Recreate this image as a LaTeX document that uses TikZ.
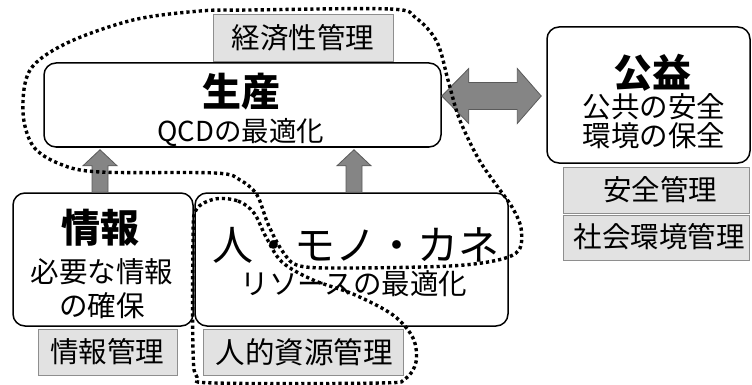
\documentclass[tikz,border=0pt]{standalone}
\usepackage{fontspec}
\setmainfont{Noto Sans CJK JP}
\usetikzlibrary{calc}
\definecolor{mgfill}{HTML}{E2E2E2}
\definecolor{mgline}{HTML}{8E8E8E}
\definecolor{arfill}{HTML}{858585}
\definecolor{arline}{HTML}{5A5A5A}
\begin{document}
\begin{tikzpicture}[x=1pt,y=-1pt,
  box/.style={draw=black, line width=1.5pt, rounded corners=12pt, fill=white, inner sep=0pt},
  mgmt/.style={draw=mgline, line width=1pt, fill=mgfill, inner sep=0pt},
  txt/.style={inner sep=0pt, text=black},
  big/.style={txt, font=\fontsize{39}{41}\selectfont\bfseries},
  huge/.style={txt, font=\fontsize{41}{43}\selectfont},
  mid/.style={txt, font=\fontsize{28.5}{30}\selectfont},
  blockarrow/.style={fill=arfill, draw=arline, line width=0.8pt, line join=miter},
  dotline/.style={draw=black, line width=3.4pt, dash pattern=on 3.2pt off 3pt}]
\useasboundingbox (0,0) rectangle (752,385);

% boxes
\node[box, minimum width=397pt, minimum height=84pt] (prod) at (242.5,105) {};
\node[mgmt, minimum width=180pt, minimum height=47pt] (econ) at (303,38.5) {};
\node[box, minimum width=203pt, minimum height=136pt] (pub) at (648.5,95) {};
\node[mgmt, minimum width=186pt, minimum height=46pt] (safe) at (656,190) {};
\node[mgmt, minimum width=186pt, minimum height=45pt] (soc) at (656,237.5) {};
\node[box, minimum width=180pt, minimum height=133pt] (info) at (103,259.5) {};
\node[box, minimum width=313pt, minimum height=133pt] (res) at (351.5,259.5) {};
\node[mgmt, minimum width=139pt, minimum height=46pt] (infom) at (107.5,352) {};
\node[mgmt, minimum width=200pt, minimum height=46pt] (hrm) at (303,352) {};

% texts
\node[big] (prodT) at (241,92) {生産};
\node[txt, font=\fontsize{27.5}{29}\selectfont] (prodS) at (241,132) {QCDの最適化};
\node[mid] (econT) at (303,38) {経済性管理};
\node[big] (pubT) at (652,73) {公益};
\node[mid] (pubS1) at (654,107) {公共の安全};
\node[mid] (pubS2) at (654,136) {環境の保全};
\node[mid] (safeT) at (660,190) {安全管理};
\node[mid] (socT) at (659,237) {社会環境管理};
\node[big] (infoT) at (100,228) {情報};
\node[mid] (infoS1) at (102,272) {必要な情報};
\node[mid] (infoS2) at (102,306) {の確保};
\node[mid] (infomT) at (107,352) {情報管理};
\node[huge] (resT) at (356,245) {人・モノ・カネ};
\node[mid] (resS) at (354,284) {リソースの最適化};
\node[txt, font=\fontsize{29.5}{31}\selectfont] (hrmT) at (304,352) {人的資源管理};

% up arrows (info -> prod, res -> prod)
\coordinate (a1b) at (info.north -| 100,0);
\coordinate (a1t) at (prod.south -| 100,0);
\draw[blockarrow] ($(a1b)+(-8,0)$) -- ($(a1t)+(-8,18)$) -- ($(a1t)+(-17,18)$) -- ($(a1t)+(0,2)$)
  -- ($(a1t)+(17,18)$) -- ($(a1t)+(8,18)$) -- ($(a1b)+(8,0)$) -- cycle;
\coordinate (a2b) at (res.north -| 354,0);
\coordinate (a2t) at (prod.south -| 354,0);
\draw[blockarrow] ($(a2b)+(-8,0)$) -- ($(a2t)+(-8,18)$) -- ($(a2t)+(-17,18)$) -- ($(a2t)+(0,2)$)
  -- ($(a2t)+(17,18)$) -- ($(a2t)+(8,18)$) -- ($(a2b)+(8,0)$) -- cycle;

% double arrow prod <-> pub
\coordinate (dl) at (prod.east |- 0,96);
\coordinate (dr) at (pub.west |- 0,96);
\draw[blockarrow] (dl) -- ($(dl)+(27,-27.5)$) -- ($(dl)+(27,-13.5)$) -- ($(dr)+(-29,-13.5)$)
  -- ($(dr)+(-29,-27.5)$) -- ($(dr)+(-5,0)$) -- ($(dr)+(-29,27.5)$) -- ($(dr)+(-29,13.5)$)
  -- ($(dl)+(27,13.5)$) -- ($(dl)+(27,27.5)$) -- cycle;

% dotted loops
\draw[dotline] plot[smooth cycle, tension=0.55] coordinates {
  (250,10) (390,9) (416,18) (437,42) (448,80) (459,118) (478,158) (497,186)
  (512,207) (521,228) (519,250) (498,260) (450,266) (350,268) (300,266)
  (283,252) (268,224) (257,195) (240,180) (215,173) (100,172) (60,164)
  (33,146) (23,112) (30,70) (67,43) (133,20) (200,11)};
\draw[dotline] plot[smooth cycle, tension=0.55] coordinates {
  (215,199) (238,201) (254,213) (266,237) (282,262) (313,280) (353,294)
  (393,315) (413,338) (416,362) (405,379) (380,383) (215,383) (197,377)
  (193,350) (193,240) (196,210)};
\end{tikzpicture}
\end{document}
